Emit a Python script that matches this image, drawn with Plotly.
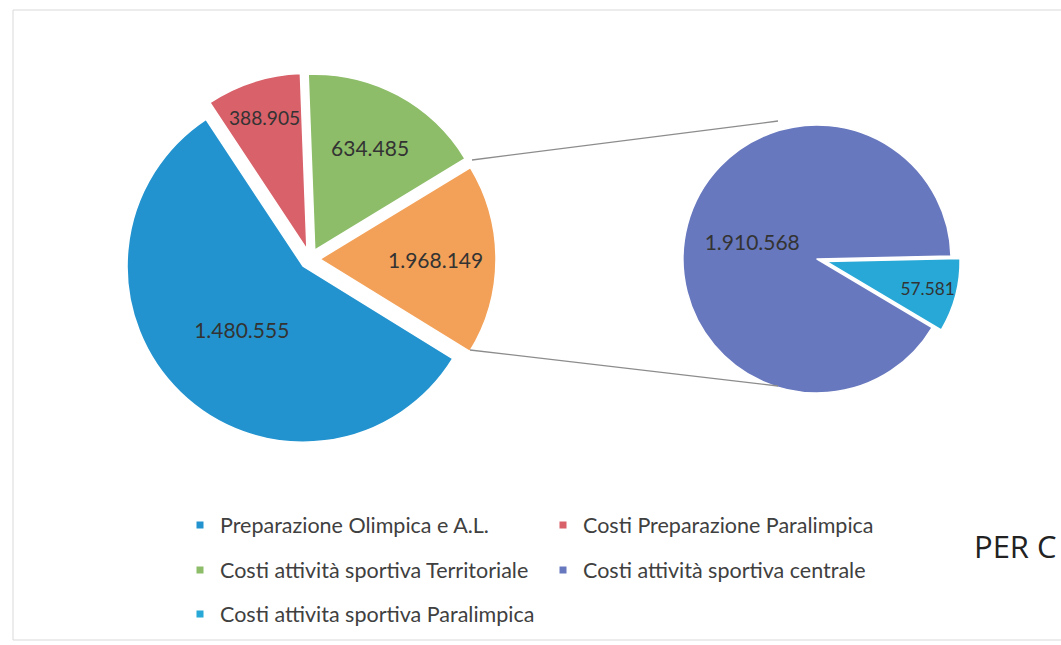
import plotly.graph_objects as go

# ---------------- data ----------------
main_labels = ["Preparazione Olimpica e A.L.", "Costi Preparazione Paralimpica",
               "Costi attività sportiva Territoriale", "Altro"]
main_values = [1480555, 388905, 634485, 1968149]          # printed data labels
main_drawn_share = [56.9, 8.7, 16.9, 17.5]                # slice shares as drawn (%)

sec_labels = ["Costi attività sportiva centrale", "Costi attivita sportiva Paralimpica"]
sec_values = [1910568, 57581]                             # printed data labels
sec_drawn_share = [91.1, 8.9]                             # slice shares as drawn (%)

legend_rows = [
    ["Preparazione Olimpica e A.L.", "Costi Preparazione Paralimpica"],
    ["Costi attività sportiva Territoriale", "Costi attività sportiva centrale"],
    ["Costi attivita sportiva Paralimpica"],
]

# ---------------- styling ----------------
W, H = 1061, 645
FONT = "Lato, 'Open Sans', sans-serif"
col = {
    "Preparazione Olimpica e A.L.": "#2393CF",
    "Costi Preparazione Paralimpica": "#D8616A",
    "Costi attività sportiva Territoriale": "#8DBD69",
    "Altro": "#F3A158",
    "Costi attività sportiva centrale": "#6878BE",
    "Costi attivita sportiva Paralimpica": "#28A8D6",
}


def it_fmt(v):
    return f"{v:,}".replace(",", ".")


def px_x(x):
    return x / W


def px_y(y):
    return 1 - y / H


fig = go.Figure()

# main pie
fig.add_trace(go.Pie(
    labels=main_labels, values=main_drawn_share,
    text=[it_fmt(v) for v in main_values], textinfo="text",
    textposition="inside", insidetextorientation="horizontal",
    textfont=dict(family=FONT, size=21, color="#333333"),
    marker=dict(colors=[col[l] for l in main_labels], line=dict(color="white", width=1.5)),
    pull=[0.057] * 4, sort=False, direction="clockwise", rotation=121.7,
    domain=dict(x=[px_x(124), px_x(496)], y=[px_y(445), px_y(73)]),
    showlegend=False, hoverinfo="label+text",
))

# secondary pie
fig.add_trace(go.Pie(
    labels=sec_labels, values=sec_drawn_share,
    text=[it_fmt(v) for v in sec_values], textinfo="text",
    textposition="inside", insidetextorientation="horizontal",
    textfont=dict(family=FONT, size=21, color="#333333"),
    marker=dict(colors=[col[l] for l in sec_labels], line=dict(color="white", width=1.5)),
    pull=[0, 0.07], sort=False, direction="clockwise", rotation=120.8,
    domain=dict(x=[px_x(673.6), px_x(960.4)], y=[px_y(402.4), px_y(115.6)]),
    showlegend=False, hoverinfo="label+text",
))

# legend entries (three rows, two columns)
legend_names = ["legend", "legend2", "legend3"]
row_y = [525, 570, 614]
for lname, row in zip(legend_names, legend_rows):
    for name in row:
        fig.add_trace(go.Scatter(
            x=[None], y=[None], mode="markers", name=name,
            marker=dict(symbol="square", size=7, color=col[name]),
            legend=lname, showlegend=True,
        ))

legend_common = dict(
    orientation="h", xanchor="left", yanchor="middle",
    font=dict(family=FONT, size=21.5, color="#404040"),
    bgcolor="rgba(0,0,0,0)", borderwidth=0,
    entrywidth=318, entrywidthmode="pixels", itemsizing="trace",
)

layout_legends = {}
for lname, y in zip(legend_names, row_y):
    layout_legends[lname] = dict(legend_common, x=px_x(180), y=px_y(y))

fig.update_layout(
    width=W, height=H,
    margin=dict(l=0, r=0, t=0, b=0),
    paper_bgcolor="white", plot_bgcolor="white",
    xaxis=dict(visible=False), yaxis=dict(visible=False),
    **layout_legends,
    shapes=[
        # chart frame
        dict(type="rect", xref="paper", yref="paper",
             x0=px_x(13), x1=px_x(1075), y0=px_y(640), y1=px_y(10),
             line=dict(color="#D9D9D9", width=1)),
        # pie-of-pie connector lines
        dict(type="line", xref="paper", yref="paper",
             x0=px_x(472), y0=px_y(160), x1=px_x(778), y1=px_y(121),
             line=dict(color="#8C8C8C", width=1.3)),
        dict(type="line", xref="paper", yref="paper",
             x0=px_x(470), y0=px_y(350), x1=px_x(778), y1=px_y(386),
             line=dict(color="#8C8C8C", width=1.3)),
    ],
    annotations=[
        dict(text="PER C", xref="paper", yref="paper", x=px_x(972), y=px_y(546),
             xanchor="left", yanchor="middle", showarrow=False,
             font=dict(family="'Open Sans', sans-serif", size=31, color="#222222")),
    ],
)

fig.write_html("out.html", config={"displayModeBar": False},
               post_script="document.body.style.margin='0px';")
